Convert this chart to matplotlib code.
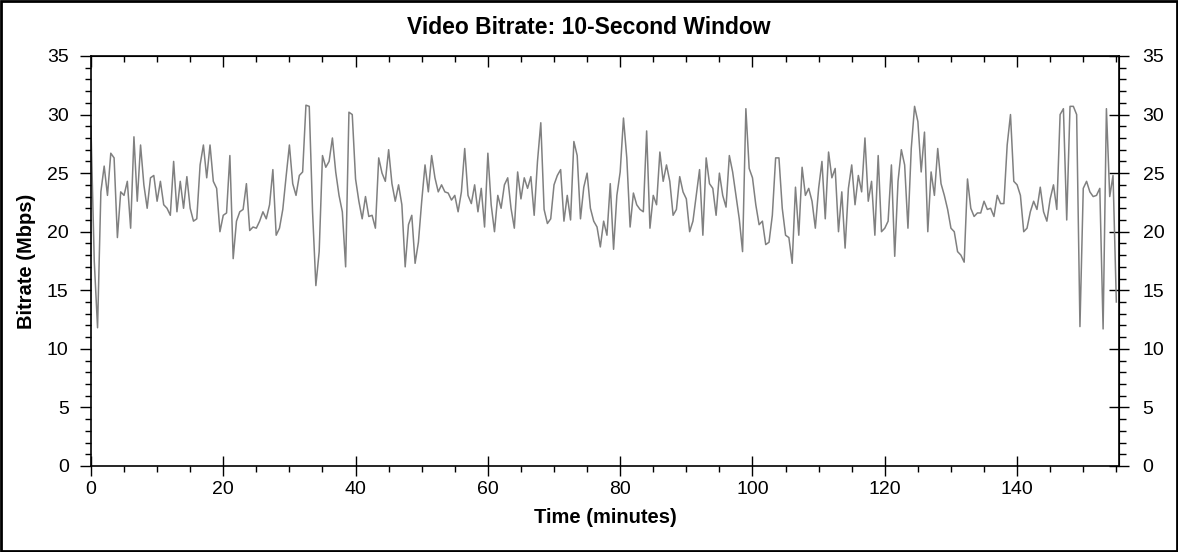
import numpy as np
import matplotlib
matplotlib.use('Agg')
import matplotlib.pyplot as plt
from matplotlib.ticker import MultipleLocator
from matplotlib.patches import Rectangle

plt.rcParams['font.family'] = ['Liberation Sans', 'DejaVu Sans']

# 10-second window bitrate, read every half minute (Mbps)
sample_step = 0.5
bitrate = [
    29.0, 17.5, 11.8, 23.4, 25.6, 23.1, 26.7, 26.3, 19.5, 23.4,
    23.1, 24.3, 20.3, 28.1, 22.6, 27.4, 24.0, 22.0, 24.6, 24.8,
    22.6, 24.3, 22.3, 22.0, 21.4, 26.0, 21.7, 24.3, 22.0, 24.7,
    22.0, 20.9, 21.1, 25.7, 27.4, 24.6, 27.4, 24.3, 23.7, 20.0,
    21.4, 21.6, 26.5, 17.7, 20.9, 21.7, 21.9, 24.1, 20.1, 20.4,
    20.3, 20.9, 21.7, 21.1, 22.3, 25.3, 19.7, 20.3, 21.9, 24.7,
    27.4, 24.1, 23.1, 24.8, 25.1, 30.8, 30.7, 21.7, 15.4, 18.3,
    26.5, 25.5, 26.0, 28.0, 25.1, 23.1, 21.7, 17.0, 30.2, 30.0,
    24.5, 22.6, 21.1, 23.0, 21.3, 21.4, 20.3, 26.3, 25.0, 24.3,
    27.0, 24.1, 22.6, 24.0, 22.3, 17.0, 20.6, 21.4, 17.3, 19.1,
    22.6, 25.7, 23.4, 26.5, 24.6, 23.4, 24.0, 23.4, 23.3, 22.7,
    23.1, 21.7, 23.4, 27.1, 23.1, 22.4, 24.0, 21.7, 23.7, 20.4,
    26.7, 22.3, 20.0, 23.1, 22.0, 24.0, 24.6, 22.0, 20.3, 25.1,
    22.8, 24.6, 23.7, 24.7, 21.4, 26.0, 29.3, 21.9, 20.7, 21.1,
    24.0, 24.8, 25.3, 20.9, 23.1, 21.0, 27.7, 26.5, 21.1, 23.8,
    25.0, 22.0, 20.9, 20.4, 18.7, 20.9, 19.7, 24.1, 18.5, 23.1,
    25.1, 29.7, 26.3, 20.4, 23.3, 22.3, 21.9, 21.7, 28.6, 20.3,
    23.1, 22.3, 26.8, 24.3, 25.7, 24.3, 21.4, 21.9, 24.7, 23.4,
    22.8, 20.0, 20.9, 23.1, 25.3, 19.7, 26.3, 24.1, 23.7, 21.4,
    25.0, 23.1, 22.1, 26.5, 25.1, 23.1, 21.1, 18.3, 30.5, 25.4,
    24.6, 22.3, 20.6, 20.9, 18.9, 19.1, 21.4, 26.3, 26.3, 22.0,
    19.7, 19.5, 17.3, 23.8, 19.7, 25.5, 23.1, 23.7, 22.6, 20.3,
    23.7, 26.0, 21.1, 26.8, 24.6, 25.4, 20.0, 23.4, 18.6, 23.7,
    25.7, 22.3, 24.8, 23.4, 28.0, 22.6, 24.3, 19.7, 26.5, 20.0,
    20.3, 20.9, 25.7, 17.9, 24.3, 27.0, 25.7, 20.3, 27.1, 30.7,
    29.4, 25.1, 28.5, 20.0, 25.1, 23.1, 27.1, 24.1, 23.1, 21.9,
    20.3, 20.0, 18.3, 18.0, 17.4, 24.5, 22.0, 21.3, 21.6, 21.6,
    22.6, 21.9, 22.0, 21.3, 23.1, 22.4, 22.4, 27.4, 30.0, 24.3,
    24.0, 23.1, 20.0, 20.3, 21.7, 22.6, 21.9, 23.8, 21.7, 20.9,
    22.8, 24.0, 21.9, 30.0, 30.5, 21.0, 30.7, 30.7, 30.0, 11.9,
    23.7, 24.3, 23.4, 23.0, 23.1, 23.7, 11.7, 30.5, 23.0, 24.8,
    14.0,
]
minutes = np.arange(len(bitrate)) * sample_step

x_max = 155.4
y_max = 35

fig = plt.figure(figsize=(11.78, 5.52), dpi=100)
ax = fig.add_axes([0.0772, 0.1558, 0.8727, 0.7428])

ax.plot(minutes, bitrate, color='#808080', linewidth=1.1)

ax.set_xlim(0, x_max)
ax.set_ylim(0, y_max)
ax.xaxis.set_major_locator(MultipleLocator(20))
ax.xaxis.set_minor_locator(MultipleLocator(5))
ax.yaxis.set_major_locator(MultipleLocator(5))
ax.yaxis.set_minor_locator(MultipleLocator(1))

ax.tick_params(axis='x', which='major', direction='inout', length=14, width=1,
               labelsize=14, pad=4)
ax.tick_params(axis='x', which='minor', direction='out', length=4, width=1)
ax.tick_params(axis='y', which='major', direction='out', length=8, width=1,
               labelsize=14, pad=8)
ax.tick_params(axis='y', which='minor', direction='out', length=4, width=1)
for s in ax.spines.values():
    s.set_linewidth(1.2)

# top axis: inward ticks, no labels
top = ax.secondary_xaxis('top')
top.xaxis.set_major_locator(MultipleLocator(20))
top.xaxis.set_minor_locator(MultipleLocator(5))
top.tick_params(which='major', direction='in', length=8, width=1, labeltop=False)
top.tick_params(which='minor', direction='in', length=4, width=1)

# right axis mirrors the left one
right = ax.secondary_yaxis('right')
right.yaxis.set_major_locator(MultipleLocator(5))
right.yaxis.set_minor_locator(MultipleLocator(1))
right.tick_params(which='major', direction='inout', length=14, width=1,
                  labelsize=14, pad=10)
right.tick_params(which='minor', direction='out', length=5, width=1)

ax.set_xlabel('Time (minutes)', fontsize=14.5, fontweight='bold', labelpad=7)
ax.set_ylabel('Bitrate (Mbps)', fontsize=14.5, fontweight='bold', labelpad=8)
fig.text(0.5, 0.951, 'Video Bitrate: 10-Second Window', ha='center', va='center',
         fontsize=16.5, fontweight='bold')

# frame round the whole picture
fig.patches.append(Rectangle((0.001, 0.002), 0.998, 0.996, transform=fig.transFigure,
                             fill=False, edgecolor='black', linewidth=2))

fig.savefig('out.png', dpi=100)
